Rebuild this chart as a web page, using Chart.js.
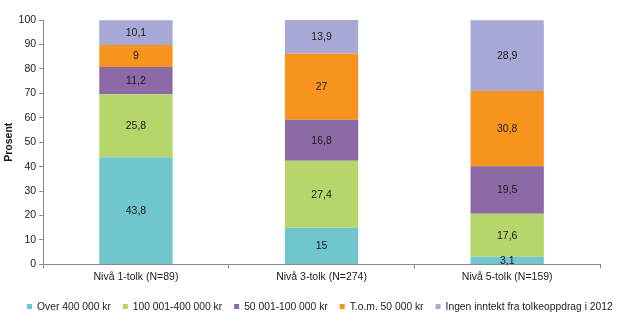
<!DOCTYPE html>
<html>
<head>
<meta charset="utf-8">
<script src="https://cdn.jsdelivr.net/npm/chart.js@4"></script>
<style>
  html, body { margin: 0; padding: 0; background: #fff; }
  #wrap { width: 620px; height: 330px; }
</style>
</head>
<body>
<div id="wrap"><canvas id="c" width="620" height="330"></canvas></div>
<script>
const categories = ['Nivå 1-tolk (N=89)', 'Nivå 3-tolk (N=274)', 'Nivå 5-tolk (N=159)'];
const seriesNames = ['Over 400 000 kr', '100 001-400 000 kr', '50 001-100 000 kr', 'T.o.m. 50 000 kr', 'Ingen inntekt fra tolkeoppdrag i 2012'];
const over400 = [43.8, 15, 3.1];
const from100to400 = [25.8, 27.4, 17.6];
const from50to100 = [11.2, 16.8, 19.5];
const upTo50 = [9, 27, 30.8];
const noIncome = [10.1, 13.9, 28.9];
const yTicks = [0, 10, 20, 30, 40, 50, 60, 70, 80, 90, 100];

const colors = ['#6fc6cd', '#b6d66c', '#8d6aa6', '#f7941e', '#a9a9d7'];
const values = [over400, from100to400, from50to100, upTo50, noIncome];

const FONT = 'Liberation Sans, Arial, sans-serif';
const FS = 10.5;

// Writes each segment's value (decimal comma) in the middle of its bar piece
const segmentLabels = {
  id: 'segmentLabels',
  afterDatasetsDraw(chart) {
    const ctx = chart.ctx;
    ctx.save();
    ctx.font = FS + 'px ' + FONT;
    ctx.fillStyle = '#1a1a1a';
    ctx.textAlign = 'center';
    ctx.textBaseline = 'middle';
    chart.data.datasets.forEach((ds, i) => {
      const meta = chart.getDatasetMeta(i);
      meta.data.forEach((bar, j) => {
        const v = ds.data[j];
        const p = bar.getProps(['x', 'y', 'base'], true);
        ctx.fillText(String(v).replace('.', ','), p.x, (p.y + p.base) / 2 + 0.5);
      });
    });
    ctx.restore();
  }
};

// Single-row legend along the bottom edge, small square swatches
const bottomLegend = {
  id: 'bottomLegend',
  afterDraw(chart) {
    const ctx = chart.ctx;
    ctx.save();
    ctx.font = '10.3px ' + FONT;
    ctx.textBaseline = 'middle';
    const y = 307;
    let x = 27;
    chart.data.datasets.forEach(ds => {
      ctx.fillStyle = ds.backgroundColor;
      ctx.fillRect(x, y - 3, 5, 5);
      ctx.fillStyle = '#1a1a1a';
      ctx.fillText(ds.label, x + 10, y + 0.5);
      x += 10 + ctx.measureText(ds.label).width + 12;
    });
    ctx.restore();
  }
};

new Chart(document.getElementById('c'), {
  type: 'bar',
  data: {
    labels: categories,
    datasets: seriesNames.map((name, i) => ({
      label: name,
      data: values[i],
      backgroundColor: colors[i],
      borderWidth: 0,
      categoryPercentage: 1,
      barPercentage: 0.395
    }))
  },
  options: {
    responsive: false,
    animation: false,
    layout: { padding: { top: 20, right: 20, bottom: 45, left: 1 } },
    plugins: {
      tooltip: { enabled: false },
      legend: { display: false }
    },
    scales: {
      x: {
        stacked: true,
        grid: { display: true, drawOnChartArea: false, color: '#888', tickLength: 4, offset: true },
        border: { color: '#888', width: 1 },
        ticks: { font: { family: FONT, size: FS }, color: '#1a1a1a', padding: 2 }
      },
      y: {
        stacked: true,
        min: 0,
        max: 100,
        afterBuildTicks(axis) { axis.ticks = yTicks.map(v => ({ value: v })); },
        grid: { display: true, drawOnChartArea: false, color: '#888', tickLength: 4 },
        border: { color: '#888', width: 1 },
        ticks: { font: { family: FONT, size: FS }, color: '#1a1a1a', padding: 3 },
        title: { display: true, text: 'Prosent', font: { family: FONT, size: FS, weight: 'bold' }, color: '#1a1a1a', padding: { top: 2, bottom: 0 } }
      }
    }
  },
  plugins: [segmentLabels, bottomLegend]
});
</script>
</body>
</html>
